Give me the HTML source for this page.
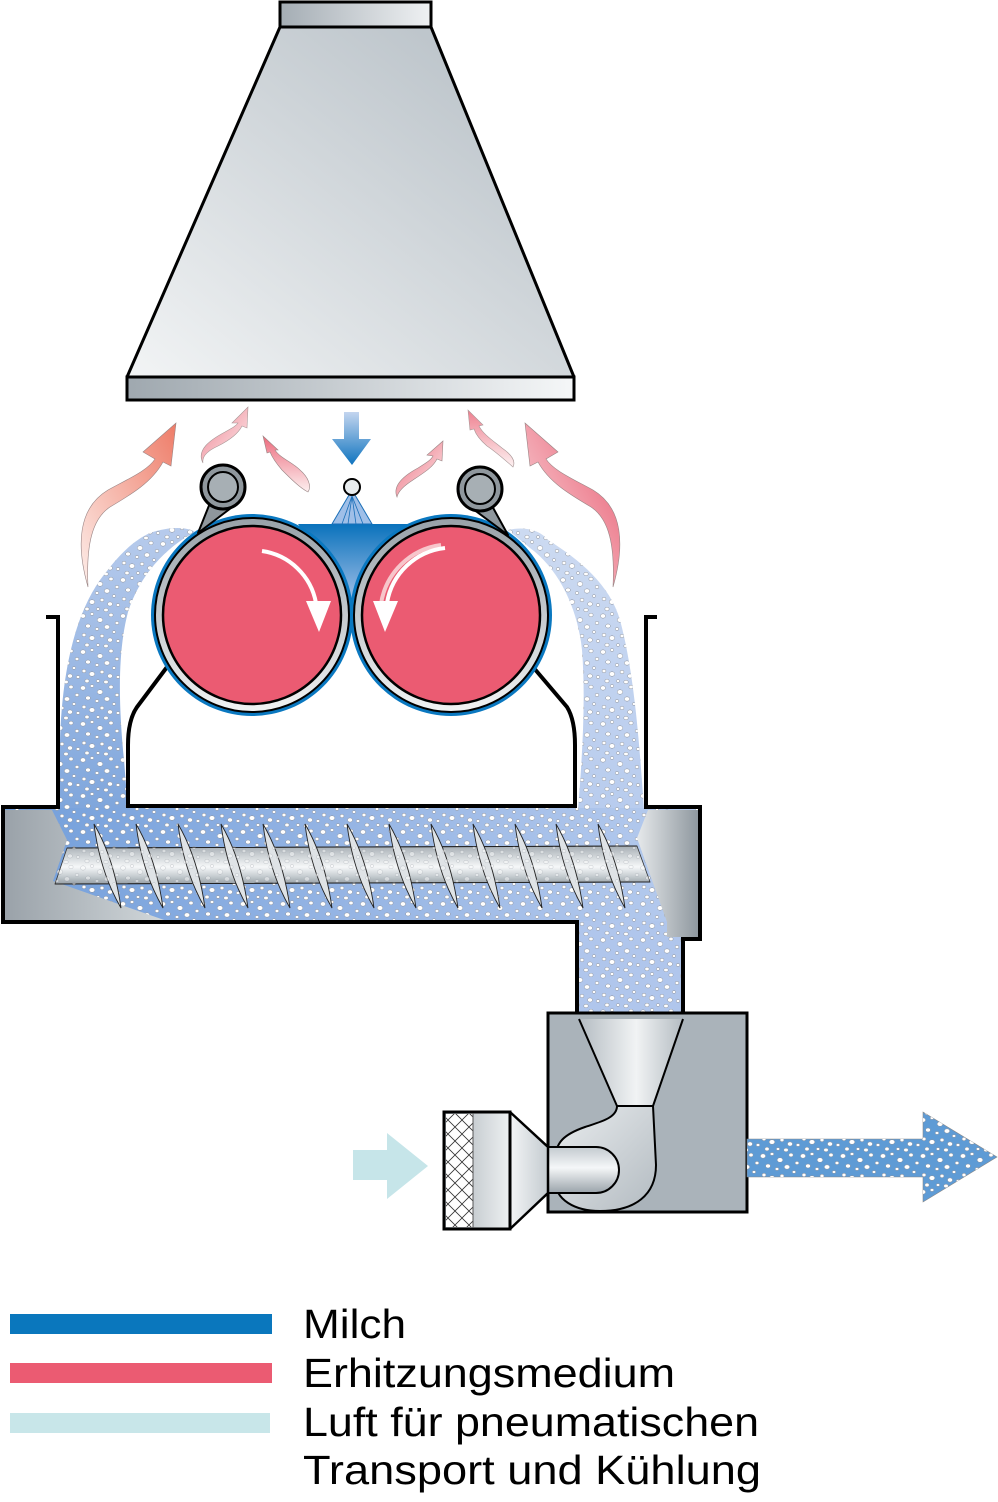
<!DOCTYPE html>
<html><head><meta charset="utf-8"><style>
html,body{margin:0;padding:0;background:#fff;}
svg{display:block;}
</style></head><body>
<svg width="998" height="1502" viewBox="0 0 998 1502" xmlns="http://www.w3.org/2000/svg">
<defs>
<linearGradient id="hoodG" x1="0" y1="1" x2="1" y2="0"><stop offset="0" stop-color="#f2f4f5"/><stop offset="1" stop-color="#b3bcc3"/></linearGradient>
<linearGradient id="hoodTop" x1="0" y1="0" x2="1" y2="0"><stop offset="0" stop-color="#a4adb4"/><stop offset="1" stop-color="#eff1f3"/></linearGradient>
<linearGradient id="hoodBand" x1="0" y1="0" x2="1" y2="0"><stop offset="0" stop-color="#9fa8af"/><stop offset="1" stop-color="#f5f7f8"/></linearGradient>
<linearGradient id="heatL" x1="1" y1="0" x2="0" y2="1"><stop offset="0" stop-color="#ee7c68"/><stop offset="1" stop-color="#fdeeea"/></linearGradient>
<linearGradient id="heatR" x1="0" y1="0" x2="1" y2="1"><stop offset="0" stop-color="#e8586e"/><stop offset="1" stop-color="#fbe6e8"/></linearGradient>
<linearGradient id="heatS" x1="0" y1="0" x2="0" y2="1"><stop offset="0" stop-color="#ec6a7c"/><stop offset="1" stop-color="#fdf0f0"/></linearGradient>
<linearGradient id="heatS2" x1="0" y1="0" x2="1" y2="1"><stop offset="0" stop-color="#ec6a7c"/><stop offset="1" stop-color="#fdf0f0"/></linearGradient>
<linearGradient id="downG" x1="0" y1="0" x2="0" y2="1"><stop offset="0" stop-color="#c3d5ef"/><stop offset="1" stop-color="#0f74bf"/></linearGradient>
<linearGradient id="milkG" x1="0" y1="0" x2="0" y2="1"><stop offset="0" stop-color="#0a72bc"/><stop offset="1" stop-color="#9dbde6"/></linearGradient>
<linearGradient id="ringG" x1="0" y1="0" x2="0" y2="1"><stop offset="0" stop-color="#98a1a8"/><stop offset="1" stop-color="#f1f3f4"/></linearGradient>
<linearGradient id="streamL" x1="0" y1="0" x2="0" y2="1"><stop offset="0" stop-color="#b7cbec"/><stop offset="1" stop-color="#7fa6dc"/></linearGradient>
<linearGradient id="streamR" x1="0" y1="0" x2="0" y2="1"><stop offset="0" stop-color="#ccdaf1"/><stop offset="1" stop-color="#b8ccee"/></linearGradient>
<linearGradient id="troughG" x1="0" y1="0" x2="1" y2="0"><stop offset="0" stop-color="#739fdb"/><stop offset="0.5" stop-color="#96b5e4"/><stop offset="1" stop-color="#b6cbee"/></linearGradient>
<linearGradient id="capL" x1="0" y1="0" x2="1" y2="0"><stop offset="0" stop-color="#9aa2a9"/><stop offset="1" stop-color="#d2d8db"/></linearGradient>
<linearGradient id="capR" x1="0" y1="0" x2="1" y2="0"><stop offset="0" stop-color="#e6e9eb"/><stop offset="1" stop-color="#8f989f"/></linearGradient>
<linearGradient id="shaftG" x1="0" y1="0" x2="0" y2="1"><stop offset="0" stop-color="#a6aeb4"/><stop offset="0.3" stop-color="#d3d8db"/><stop offset="0.55" stop-color="#f6f8f9"/><stop offset="0.8" stop-color="#c5ccd0"/><stop offset="1" stop-color="#979fa6"/></linearGradient>
<linearGradient id="funnelG" x1="0" y1="0" x2="1" y2="0"><stop offset="0" stop-color="#b4bcc2"/><stop offset="0.55" stop-color="#f1f3f4"/><stop offset="1" stop-color="#b4bcc2"/></linearGradient>
<linearGradient id="voluteG" x1="0" y1="0" x2="1" y2="1"><stop offset="0" stop-color="#e9ecee"/><stop offset="1" stop-color="#b3bbc1"/></linearGradient>
<linearGradient id="pipeG" x1="0" y1="0" x2="0" y2="1"><stop offset="0" stop-color="#c3cacf"/><stop offset="0.45" stop-color="#f5f7f8"/><stop offset="1" stop-color="#9aa3aa"/></linearGradient>
<linearGradient id="coneG" x1="0" y1="0" x2="1" y2="0"><stop offset="0" stop-color="#f3f5f6"/><stop offset="1" stop-color="#c4cbd0"/></linearGradient>
<linearGradient id="filtG" x1="0" y1="0" x2="1" y2="0"><stop offset="0" stop-color="#aab2b8"/><stop offset="1" stop-color="#eef1f2"/></linearGradient>
<pattern id="dots" width="40" height="36" patternUnits="userSpaceOnUse">
<g fill="#fff" stroke="#8a8f99" stroke-width="0.5">
<ellipse cx="3" cy="4" rx="2.6" ry="2.2"/><ellipse cx="12" cy="2" rx="1.8" ry="1.5"/><ellipse cx="20" cy="8" rx="2.8" ry="2.3"/><ellipse cx="31" cy="3" rx="2.1" ry="1.8"/><ellipse cx="37" cy="11" rx="1.9" ry="1.6"/><ellipse cx="8" cy="14" rx="2.4" ry="2"/><ellipse cx="17" cy="17" rx="1.8" ry="1.5"/><ellipse cx="27" cy="15" rx="2.7" ry="2.2"/><ellipse cx="34" cy="20" rx="1.7" ry="1.4"/><ellipse cx="4" cy="23" rx="2" ry="1.7"/><ellipse cx="12" cy="26" rx="2.8" ry="2.3"/><ellipse cx="22" cy="24" rx="2" ry="1.7"/><ellipse cx="30" cy="28" rx="2.5" ry="2.1"/><ellipse cx="38" cy="29" rx="1.8" ry="1.5"/><ellipse cx="7" cy="33" rx="2.1" ry="1.8"/><ellipse cx="18" cy="33" rx="1.7" ry="1.4"/><ellipse cx="26" cy="34" rx="2.2" ry="1.7"/>
</g></pattern>
<pattern id="hatch" width="14" height="14" patternUnits="userSpaceOnUse">
<rect width="14" height="14" fill="#fff"/><path d="M0,0 L14,14 M14,0 L0,14" stroke="#333" stroke-width="0.8"/>
</pattern>
</defs>

<!-- Hood -->
<polygon points="280,27 431,27 574,377 127,377" fill="url(#hoodG)" stroke="#000" stroke-width="3" stroke-linejoin="round"/>
<rect x="280" y="2" width="151" height="25" fill="url(#hoodTop)" stroke="#000" stroke-width="3"/>
<rect x="127" y="377" width="447" height="23" fill="url(#hoodBand)" stroke="#000" stroke-width="3"/>

<!-- Heat arrows -->
<g stroke="#9a8585" stroke-width="0.6">
<path d="M88,587 C76,545 78,508 108,490 C130,478 148,470 155,459 L143,452 L176,423 L171,466 L163,462 C152,482 132,494 110,507 C92,519 86,545 88,587 Z" fill="url(#heatL)"/>
<path d="M88,587 C76,545 78,508 108,490 C130,478 148,470 155,459 L143,452 L176,423 L171,466 L163,462 C152,482 132,494 110,507 C92,519 86,545 88,587 Z" fill="url(#heatR)" transform="translate(701,0) scale(-1,1)"/>
<path d="M203,463 C196,450 210,440 225,432 C232,428 236,426 238,423 L232,423 L248,407 L247,428 L242,426 C238,434 230,440 218,446 C205,452 202,458 203,463 Z" fill="url(#heatS2)" opacity="0.85"/>
<path d="M308,492 C300,488 290,478 282,470 C276,463 272,457 270,452 L267,453 L263,436 L278,450 L275,450 C280,458 292,462 300,470 C308,477 312,486 308,492 Z" fill="url(#heatS)"/>
<path d="M397,497 C392,485 405,475 418,468 C426,463 431,460 433,456 L427,455 L443,441 L442,461 L437,459 C433,467 425,472 413,480 C402,487 398,492 397,497 Z" fill="url(#heatS2)"/>
<path d="M513,467 C505,460 496,452 487,446 C480,440 476,435 474,429 L470,430 L468,410 L483,425 L479,426 C483,434 492,440 502,448 C512,455 516,461 513,467 Z" fill="url(#heatS)" opacity="0.85"/>
</g>

<!-- Down milk arrow -->
<polygon points="344,412 359,412 359,439 371,439 352,465 332,439 344,439" fill="url(#downG)"/>

<!-- Milk between rollers -->
<polygon points="298,524 412,524 352,598" fill="url(#milkG)"/>
<!-- spray -->
<polygon points="349,495 355,495 372,524 332,524" fill="#9fbfe8" stroke="#1a6fb8" stroke-width="1"/>
<path d="M352,496 L342,524 M352,496 L348,524 M352,496 L356,524 M352,496 L363,524" stroke="#1a6fb8" stroke-width="0.8"/>
<circle cx="352" cy="487" r="8" fill="#e8ecee" stroke="#000" stroke-width="2"/>

<!-- Streams -->
<path d="M150,533 C170,526 188,527 195,532 C165,548 140,575 128,612 C118,650 118,700 124,760 L128,810 L58,810 L60,740 C62,680 72,620 100,580 C115,560 130,542 150,533 Z" fill="url(#streamL)"/>
<path d="M150,533 C170,526 188,527 195,532 C165,548 140,575 128,612 C118,650 118,700 124,760 L128,810 L58,810 L60,740 C62,680 72,620 100,580 C115,560 130,542 150,533 Z" fill="url(#dots)"/>
<path d="M508,530 C525,526 540,530 548,540 C580,560 610,585 620,620 C632,665 638,720 644,810 L578,810 C582,760 586,700 582,650 C578,610 560,570 530,548 Z" fill="url(#streamR)"/>
<path d="M508,530 C525,526 540,530 548,540 C580,560 610,585 620,620 C632,665 638,720 644,810 L578,810 C582,760 586,700 582,650 C578,610 560,570 530,548 Z" fill="url(#dots)"/>

<!-- Trough -->
<polygon points="4,808 698,808 698,938 682,938 682,1012 578,1012 578,921 4,921" fill="url(#troughG)"/>
<polygon points="578,921 682,921 682,1012 578,1012" fill="#b0c6ec"/>
<polygon points="4,808 698,808 698,938 682,938 682,1012 578,1012 578,921 4,921" fill="url(#dots)"/>
<polygon points="5,810 52,810 67,840 53,881 167,921 5,921" fill="url(#capL)"/>
<polygon points="648,810 637,838 667,922 667,937 698,937 698,810" fill="url(#capR)"/>
<polygon points="67,848 637,846 650,882 55,884" fill="url(#shaftG)" stroke="#333" stroke-width="0.8"/>
<path d="M67,848 L637,846 M55,884 L650,882" stroke="#222" stroke-width="1"/>
<g fill="#dfe3e6" stroke="#222" stroke-width="0.9">
<path d="M94,824 Q114,858 121,908 Q100,872 94,824 Z"/>
<path d="M136,824 Q156,858 163,908 Q142,872 136,824 Z"/>
<path d="M178,824 Q198,858 205,908 Q184,872 178,824 Z"/>
<path d="M221,824 Q241,858 248,908 Q227,872 221,824 Z"/>
<path d="M263,824 Q283,858 290,908 Q269,872 263,824 Z"/>
<path d="M305,824 Q325,858 332,908 Q311,872 305,824 Z"/>
<path d="M347,824 Q367,858 374,908 Q353,872 347,824 Z"/>
<path d="M389,824 Q409,858 416,908 Q395,872 389,824 Z"/>
<path d="M431,824 Q451,858 458,908 Q437,872 431,824 Z"/>
<path d="M473,824 Q493,858 500,908 Q479,872 473,824 Z"/>
<path d="M515,824 Q535,858 542,908 Q521,872 515,824 Z"/>
<path d="M556,824 Q576,858 583,908 Q562,872 556,824 Z"/>
<path d="M598,824 Q618,858 625,908 Q604,872 598,824 Z"/>
</g>
<polygon points="67,848 637,846 650,882 55,884" fill="url(#dots)" opacity="0.45"/>

<!-- Walls & trough outline -->
<path d="M46,617 H58 V807 H3 V922 H577 V1013 M683,1013 V939 H700 V807 H646 V617 H657" fill="none" stroke="#000" stroke-width="4" stroke-linejoin="miter"/>
<!-- Inner body -->
<path d="M167,667 L137,707 Q128,720 128,745 L128,806 L575,806 L575,745 Q575,720 567,707 L533,667" fill="#fff" stroke="#000" stroke-width="4"/>

<!-- Rollers -->
<circle cx="252" cy="615" r="101" fill="#0a78c0"/>
<circle cx="451" cy="615" r="101" fill="#0a78c0"/>
<circle cx="252" cy="615" r="97" fill="url(#ringG)" stroke="#000" stroke-width="2"/>
<circle cx="451" cy="615" r="97" fill="url(#ringG)" stroke="#000" stroke-width="2"/>
<circle cx="252" cy="615" r="89" fill="#eb5b72" stroke="#000" stroke-width="2.5"/>
<circle cx="451" cy="615" r="89" fill="#eb5b72" stroke="#000" stroke-width="2.5"/>
<!-- rotation arrows -->
<path d="M262,551 A64 64 0 0 1 316,603" fill="none" stroke="#fff" stroke-width="4"/>
<polygon points="306,601 331,601 319,632" fill="#fff"/>
<path d="M441,545 A70 70 0 0 0 381,604" fill="none" stroke="#f7c6cb" stroke-width="4"/>
<path d="M445,548 A66 66 0 0 0 387,603" fill="none" stroke="#fff" stroke-width="4"/>
<polygon points="373,601 398,601 385,632" fill="#fff"/>

<!-- Scrapers -->
<polygon points="210,503 231,508 198,533" fill="#8f979d" stroke="#000" stroke-width="2" stroke-linejoin="round"/>
<circle cx="223" cy="487" r="22" fill="#8f979d" stroke="#000" stroke-width="3"/>
<circle cx="223" cy="487" r="15" fill="#a7afb4" stroke="#000" stroke-width="2"/>
<polygon points="469,506 491,504 508,535" fill="#8f979d" stroke="#000" stroke-width="2" stroke-linejoin="round"/>
<circle cx="480" cy="489" r="22" fill="#8f979d" stroke="#000" stroke-width="3"/>
<circle cx="480" cy="489" r="15" fill="#a7afb4" stroke="#000" stroke-width="2"/>

<!-- Blower -->
<rect x="548" y="1013" width="199" height="199" fill="#aab3ba" stroke="#000" stroke-width="3"/>
<polygon points="579,1019 683,1019 653,1106 617,1106" fill="url(#funnelG)"/>
<path d="M579,1019 L617,1106 M683,1019 L653,1106" stroke="#000" stroke-width="2"/>
<path d="M617,1106 C617,1118 600,1122 585,1127 C565,1134 555,1142 555,1160 L555,1180 C555,1200 575,1211 600,1211 C635,1211 656,1195 656,1165 L653,1106 Z" fill="url(#voluteG)" stroke="#000" stroke-width="2"/>
<path d="M548,1147 H596 A23 23 0 0 1 596,1193 H548 Z" fill="url(#pipeG)" stroke="#000" stroke-width="2"/>
<polygon points="510,1112 548,1147 548,1193 510,1229" fill="url(#coneG)" stroke="#000" stroke-width="2.5" stroke-linejoin="round"/>
<rect x="444" y="1112" width="66" height="117" fill="url(#filtG)" stroke="#000" stroke-width="3"/>
<rect x="446" y="1114" width="27" height="113" fill="url(#hatch)"/>
<line x1="473" y1="1113" x2="473" y2="1228" stroke="#555" stroke-width="1"/>

<!-- Air in arrow -->
<polygon points="353,1150 387,1150 387,1133 428,1166 387,1199 387,1180 353,1180" fill="#c6e5e9"/>
<!-- Output arrow -->
<polygon points="747,1139 923,1139 923,1112 997,1157 923,1202 923,1177 747,1177" fill="#5e9bd5" stroke="#888" stroke-width="0.6"/>
<polygon points="747,1139 923,1139 923,1112 997,1157 923,1202 923,1177 747,1177" fill="url(#dots)"/>

<!-- Legend -->
<rect x="10" y="1314" width="262" height="20" fill="#0a77bd"/>
<rect x="10" y="1363" width="262" height="20" fill="#eb5b72"/>
<rect x="10" y="1413" width="260" height="20" fill="#c8e6e9"/>
<g font-family="Liberation Sans, sans-serif" font-size="41" fill="#000">
<text x="303" y="1338" textLength="103" lengthAdjust="spacingAndGlyphs">Milch</text>
<text x="303" y="1387" textLength="372" lengthAdjust="spacingAndGlyphs">Erhitzungsmedium</text>
<text x="303" y="1436" textLength="456" lengthAdjust="spacingAndGlyphs">Luft für pneumatischen</text>
<text x="303" y="1484" textLength="458" lengthAdjust="spacingAndGlyphs">Transport und Kühlung</text>
</g>
</svg>
</body></html>
